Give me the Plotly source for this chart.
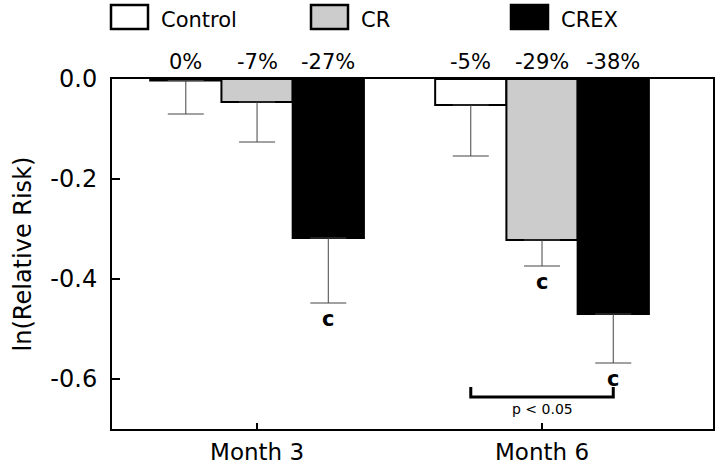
import plotly.graph_objects as go

# ---- data ----
months = ["Month 3", "Month 6"]
groups = ["Control", "CR", "CREX"]
control_vals = [-0.003, -0.052]
cr_vals = [-0.046, -0.322]
crex_vals = [-0.318, -0.470]
control_err = [0.067, 0.102]
cr_err = [0.080, 0.052]
crex_err = [0.130, 0.098]
control_pct = ["0%", "-5%"]
cr_pct = ["-7%", "-29%"]
crex_pct = ["-27%", "-38%"]
# significance marker "c" per bar (empty = none)
control_sig = ["", ""]
cr_sig = ["", "c"]
crex_sig = ["c", "c"]
y_ticks = [0.0, -0.2, -0.4, -0.6]
y_ticktext = ["0.0", "-0.2", "-0.4", "-0.6"]

fills = ["#ffffff", "#cccccc", "#000000"]
FONT = "DejaVu Sans"

series = [
    (groups[0], control_vals, control_err, control_pct, control_sig),
    (groups[1], cr_vals, cr_err, cr_pct, cr_sig),
    (groups[2], crex_vals, crex_err, crex_pct, crex_sig),
]

fig = go.Figure()
for name, vals, errs, pct, sig in series:
    i = groups.index(name)
    fig.add_trace(go.Bar(
        name=name, x=months, y=vals,
        marker=dict(color=fills[i], line=dict(color="black", width=2)),
        error_y=dict(type="data", symmetric=False, array=[0] * len(vals),
                     arrayminus=errs, color="#444444", thickness=1, width=18),
        showlegend=False,
    ))

annotations = []
shapes = []

# mapping from pixel to paper coords (plot area 112..713 x, 79..429 y)
W, L = 601.0, 112.0
H, B = 350.0, 429.0
def px(xp):
    return (xp - L) / W
def py(yp):
    return (B - yp) / H

bar_w = 0.25
for name, vals, errs, pct, sig in series:
    j = groups.index(name)
    for k, m in enumerate(months):
        xc = k + (j - 1) * bar_w
        annotations.append(dict(x=xc, xref="x", y=py(62), yref="paper", text=pct[k],
                                showarrow=False, font=dict(family=FONT, size=21, color="black"),
                                xanchor="center", yanchor="middle"))
        if sig[k]:
            annotations.append(dict(x=xc, xref="x", y=vals[k] - errs[k] - 0.032, yref="y",
                                    text="<b>" + sig[k] + "</b>", showarrow=False,
                                    font=dict(family=FONT, size=21, color="black"),
                                    xanchor="center", yanchor="middle"))

# significance bracket between Control and CREX at Month 6
bx0 = 1 - bar_w
bx1 = 1 + bar_w
shapes.append(dict(type="path", xref="x", yref="y",
                   path=f"M {bx0},-0.616 L {bx0},-0.636 L {bx1},-0.636 L {bx1},-0.616",
                   line=dict(color="black", width=3)))
annotations.append(dict(x=1, xref="x", y=-0.66, yref="y", text="p < 0.05", showarrow=False,
                        font=dict(family=FONT, size=14, color="black"),
                        xanchor="center", yanchor="middle"))

# custom legend (boxes + labels) above the plot
legend_x = [111, 311, 511]
for i, g in enumerate(groups):
    x0 = legend_x[i]
    shapes.append(dict(type="rect", xref="paper", yref="paper",
                       x0=px(x0), x1=px(x0 + 37), y0=py(29), y1=py(5),
                       fillcolor=fills[i], line=dict(color="black", width=2.5)))
    annotations.append(dict(x=px(x0 + 48), xref="paper", y=py(20), yref="paper", text=g,
                            showarrow=False, xanchor="left", yanchor="middle",
                            font=dict(family=FONT, size=21, color="black")))

fig.update_layout(
    width=721, height=464,
    margin=dict(l=112, r=8, t=79, b=35, autoexpand=False),
    paper_bgcolor="white", plot_bgcolor="white",
    barmode="group", bargap=0.25, bargroupgap=0,
    font=dict(family=FONT, color="black"),
    annotations=annotations, shapes=shapes,
    showlegend=False,
)
fig.update_xaxes(
    range=[-0.509, 1.6], showgrid=False, zeroline=False,
    showline=True, linecolor="black", linewidth=2, mirror=True,
    ticks="inside", ticklen=6, tickwidth=2, tickcolor="black",
    tickfont=dict(family=FONT, size=23, color="black"),
    ticklabelstandoff=1, automargin=False,
)
fig.update_yaxes(
    range=[-0.7, 0.0], showgrid=False, zeroline=False,
    showline=True, linecolor="black", linewidth=2, mirror=True,
    ticks="inside", ticklen=8, tickwidth=2, tickcolor="black",
    tickvals=y_ticks, ticktext=y_ticktext,
    tickfont=dict(family=FONT, size=24, color="black"),
    ticklabelstandoff=8, automargin=False,
    title=dict(text="ln(Relative Risk)", font=dict(family=FONT, size=24, color="black"), standoff=12),
)

fig.write_html("out.html", config={"displayModeBar": False},
               post_script="document.body.style.margin='0px';")
